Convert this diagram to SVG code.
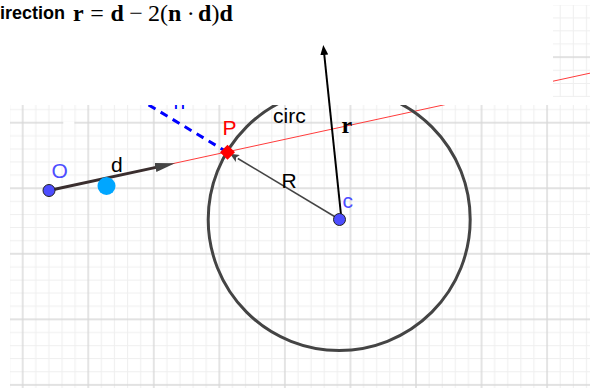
<svg xmlns="http://www.w3.org/2000/svg" width="590" height="388" viewBox="0 0 590 388">
<style>
.lbl{font-family:"Liberation Sans",Arial,sans-serif;font-size:21px}
.math{font-family:"Liberation Serif","Times New Roman",serif;font-size:24px;fill:#000}
.pt{stroke:#222;stroke-width:1}
</style>
<defs>
<pattern id="grid" patternUnits="userSpaceOnUse" x="-10.075" y="89.925" width="65.55" height="65.55">
<rect width="65.55" height="65.55" fill="#fff"/>
<path d="M6.555 0V65.55M19.665 0V65.55M45.885 0V65.55M58.995 0V65.55M0 6.555H65.55M0 19.665H65.55M0 45.885H65.55M0 58.995H65.55" stroke="#efefef" stroke-width="1"/>
<path d="M32.775 0V65.55M0 32.775H65.55" stroke="#d9d9d9" stroke-width="1.4"/>
</pattern>
<clipPath id="clipGrid">
<rect x="10" y="105" width="580" height="283"/>
<rect x="553" y="5" width="37" height="92"/>
</clipPath>
<marker id="headD" markerUnits="userSpaceOnUse" viewBox="0 0 20 9" markerWidth="20" markerHeight="9" refX="10" refY="4.5" orient="auto">
<path d="M0 0L20 4.5L0 9z" fill="#444"/>
</marker>
<marker id="headR" markerUnits="userSpaceOnUse" viewBox="0 0 9 8" markerWidth="9" markerHeight="8" refX="0" refY="4" orient="auto">
<path d="M0 0L9 4L0 8L2 4z" fill="#444"/>
</marker>
<marker id="headBlack" markerUnits="userSpaceOnUse" viewBox="0 0 10 8" markerWidth="10" markerHeight="8" refX="0" refY="4" orient="auto">
<path d="M0 0L10 4L0 8z" fill="#000"/>
</marker>
</defs>
<rect width="590" height="388" fill="#fff"/>
<g id="grid-area">
<rect x="10" y="105" width="580" height="283" fill="url(#grid)"/>
<rect x="553" y="5" width="37" height="92" fill="url(#grid)"/>
<rect x="63.3" y="121.4" width="11" height="2.6" fill="#fff"/>
</g>
<g id="title">
<text x="0" y="19" font-family="Liberation Sans,Arial,sans-serif" font-weight="bold" font-size="18">irection</text>
<text class="math" y="21"><tspan x="73" font-weight="bold">r</tspan><tspan x="90.3">=</tspan><tspan x="110.5" font-weight="bold">d</tspan><tspan x="129.2">−</tspan><tspan x="148">2</tspan><tspan x="160">(</tspan><tspan x="168" font-weight="bold">n</tspan><tspan x="186.7">·</tspan><tspan x="198" font-weight="bold">d</tspan><tspan x="211.4">)</tspan><tspan x="219.4" font-weight="bold">d</tspan></text>
</g>
<g id="clipped" clip-path="url(#clipGrid)">
<line id="ray" x1="49" y1="190.5" x2="600" y2="71" stroke="#ff3b3b" stroke-width="1"/>
<circle id="circ" cx="339.2" cy="219.5" r="131" fill="none" stroke="#444" stroke-width="3"/>
<line id="normal" x1="227.5" y1="152.3" x2="140.4" y2="100" stroke="#0000ff" stroke-width="3" stroke-dasharray="8 6"/>
<text class="lbl" x="173.5" y="108.5" fill="#0000ff">n</text>
</g>
<g id="connectors">
<line id="vec-d" x1="49" y1="190.5" x2="165.2" y2="165.4" stroke="#3a2e2e" stroke-width="3" marker-end="url(#headD)"/>
<line id="seg-R" x1="339.5" y1="219.5" x2="237.8" y2="158.5" stroke="#444" stroke-width="1.5" marker-end="url(#headR)"/>
<line id="vec-r" x1="341.5" y1="219.5" x2="324.3" y2="55" stroke="#000" stroke-width="2" marker-end="url(#headBlack)"/>
</g>
<g id="node-O"><circle class="pt" cx="49" cy="190.5" r="6" fill="#4d4dff"/><text class="lbl" x="51.5" y="178" fill="#4d4dff">O</text></g>
<g id="node-cyan"><circle cx="106.5" cy="186" r="9" fill="#00a6ff"/></g>
<g id="node-d"><text class="lbl" x="111" y="171.5" fill="#000">d</text></g>
<g id="node-P"><polygon points="227.5,144.8 235,152.3 227.5,159.8 220,152.3" fill="#ff0000"/><text class="lbl" x="222.5" y="135" fill="#ff0000">P</text></g>
<g id="node-c"><circle class="pt" cx="339.5" cy="219.5" r="6" fill="#4d4dff"/><text class="lbl" x="342.5" y="208" fill="#4d4dff">c</text></g>
<g id="label-circ"><text class="lbl" x="273" y="122.5" fill="#000">circ</text></g>
<g id="label-R"><text class="lbl" x="281.5" y="188" fill="#000">R</text></g>
<g id="label-r"><text class="math" x="341.5" y="132.5" font-size="22" font-weight="bold">r</text></g>
</svg>
